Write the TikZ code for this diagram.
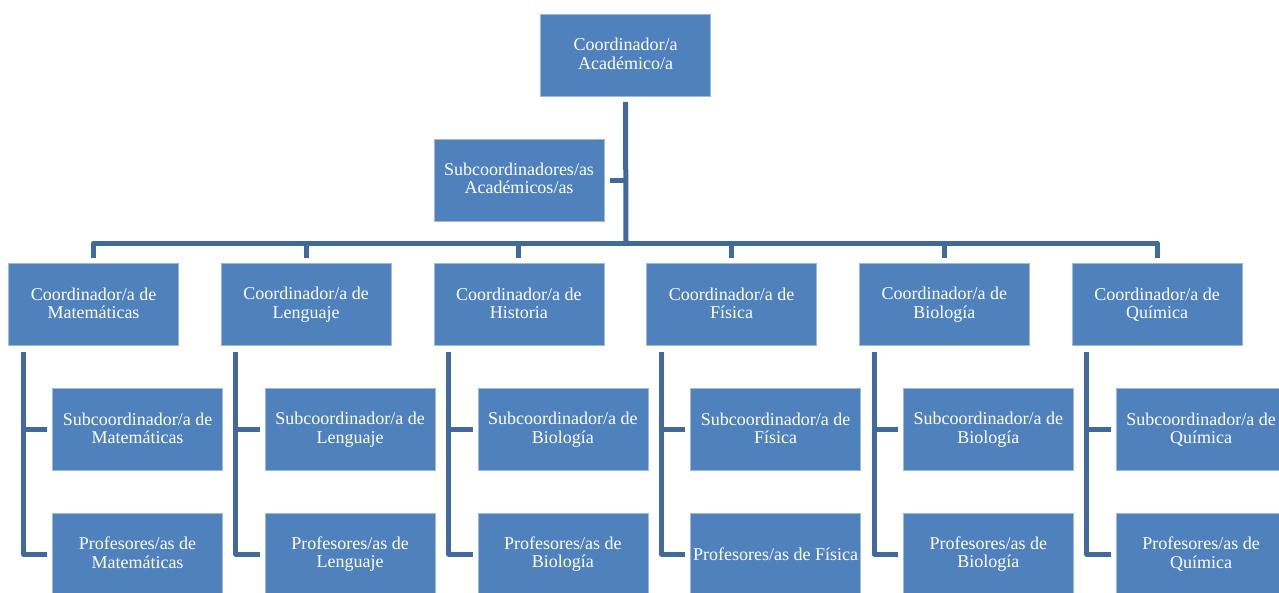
\documentclass[tikz,border=0pt]{standalone}
\usepackage{fontspec}
\setmainfont{Liberation Serif}
\usetikzlibrary{positioning}
\definecolor{boxblue}{HTML}{4F81BD}
\definecolor{linkblue}{HTML}{41699C}
\tikzset{
    unit/.style={draw=boxblue!55!white, line width=0.6pt, fill=boxblue, text=white,
        minimum width=170pt, minimum height=82pt, inner sep=2pt, align=center,
        font=\fontsize{18}{18.5}\selectfont,
        execute at begin node={\rule{0pt}{15.5pt}},
        execute at end node={\rule[-3pt]{0pt}{3pt}}},
    link/.style={draw=linkblue, line width=5pt, line join=round}
}
\begin{document}
\begin{tikzpicture}[x=1pt,y=-1pt]
    \useasboundingbox (0,0) rectangle (1279,592);
    %% top of the chart
    \node[unit] (top) at (625.5,55.5) {Coordinador/a\\Académico/a};
    \node[unit] (subac) at (519,180) {Subcoordinadores/as\\Académicos/as};
    \coordinate (hub) at (626,243);
    \draw[link] ([yshift=-5pt]top.south) -- (hub);
    \draw[link] ([xshift=6pt]subac.east) -- (subac.east -| hub);
    %% one column per subject
    \foreach \i/\area/\subarea/\profarea/\brk in {0/Matemáticas/Matemáticas/Matemáticas/\\,
            1/Lenguaje/Lenguaje/Lenguaje/\\, 2/Historia/Biología/Biología/\\,
            3/Física/Física/Física/\space, 4/Biología/Biología/Biología/\\,
            5/Química/Química/Química/\\} {
        \node[unit] (coord\i) at (93.5+212.7*\i,304.5) {Coordinador/a de\\\area};
        \node[unit] (sub\i) at (137.5+212.7*\i,429.5) {Subcoordinador/a de\\\subarea};
        \node[unit] (prof\i) at (137.5+212.7*\i,554) {Profesores/as de\brk\profarea};
        \coordinate (spine\i) at ([xshift=15pt,yshift=-6pt]coord\i.south west);
        \draw[link] (spine\i) -- (spine\i |- prof\i.west) -- ([xshift=-5pt]prof\i.west);
        \draw[link] (spine\i |- sub\i.west) -- ([xshift=-5pt]sub\i.west);
        \draw[link] (coord\i.north |- hub) -- ([yshift=5pt]coord\i.north);
    }
    %% main bar
    \draw[link] ([yshift=5pt]coord0.north) -- (coord0.north |- hub)
        -- (coord5.north |- hub) -- ([yshift=5pt]coord5.north);
\end{tikzpicture}
\end{document}
